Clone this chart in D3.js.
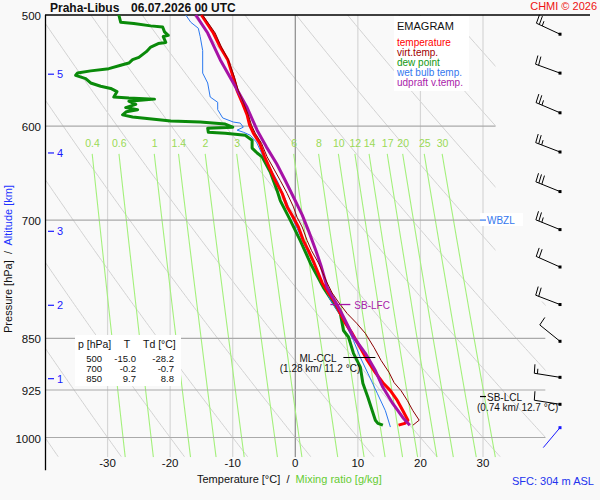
<!DOCTYPE html>
<html>
<head>
<meta charset="utf-8">
<script src="https://cdn.jsdelivr.net/npm/d3@7"></script>
<style>
body { margin: 0; background: #f9f9f9; }
text { font-family: "Liberation Sans", Arial, sans-serif; }
</style>
</head>
<body>
<div id="chart"></div>
<script>
// sounding values (pressure hPa, temperature degC)
var tempP = [500,515,527,538,554,566,577,589,599,607,617,631,656,670,685,697,708,724,736,751,776,789,802,816,829,843,863,881,899,914,926,941,957,972,977,980];
var tempT = [-15.0,-13.1,-12.0,-10.8,-9.9,-9.3,-8.5,-7.7,-7.3,-6.7,-5.7,-4.9,-3.2,-2.1,-1.3,-0.3,0.5,1.3,2.1,3.0,4.3,5.3,6.4,7.2,8.0,9.1,10.4,11.5,12.8,14.0,15.2,16.3,17.2,18.0,17.5,16.5];

var virtP = [500,515,527,538,554,566,577,589,599,607,617,631,656,670,685,697,708,724,736,751,776,789,802,816,829,843,863,881,899,914,926,941,957,972,980];
var virtT = [-14.8,-12.8,-11.8,-10.7,-9.7,-9.1,-8.3,-7.5,-7.0,-6.4,-5.4,-4.5,-2.4,-1.3,-0.3,0.3,1.1,1.9,2.6,3.7,5.1,5.9,7.0,8.3,9.8,11.2,12.6,13.7,15.0,15.8,16.9,17.9,18.8,19.8,18.8];

var dewP = [500,506,507,509,510,514,517,518,523,524,527,531,536,538,541,543,546,548,550,552,555,559,562,564,567,572,573,574,576,579,582,584,586,589,591,595,596,598,601,602,606,607,609,614,622,627,631,647,667,678,689,700,724,751,782,802,816,839,848,871,891,915,936,957,972,977,980];
var dewT = [-28.2,-27.9,-25.8,-23.1,-21.2,-20.9,-20.3,-21.1,-20.7,-21.9,-23.1,-23.8,-25.0,-26.0,-26.6,-27.9,-29.8,-32.7,-34.8,-35.1,-33.5,-32.7,-31.1,-29.5,-28.5,-29.0,-26.6,-22.5,-26.6,-25.5,-27.1,-25.2,-27.0,-27.6,-26.0,-19.9,-15.2,-11.2,-10.0,-14.0,-13.9,-11.2,-8.0,-6.9,-6.9,-6.1,-5.3,-4.0,-2.9,-2.4,-1.6,-0.8,0.8,2.4,4.5,6.1,7.2,7.7,8.5,9.3,10.4,10.8,11.6,12.3,12.8,13.2,14.0];

var wetP = [500,506,511,518,530,550,559,572,577,584,592,596,597,601,604,606,609,616,631,656,681,697,718,736,756,798,825,853,877,900,930,957,983];
var wetT = [-17.5,-16.7,-15.5,-15.2,-14.8,-14.8,-14.0,-13.6,-12.4,-12.4,-11.6,-9.9,-8.8,-8.3,-9.3,-8.3,-7.2,-6.2,-5.1,-2.9,-1.3,-0.5,0.8,1.9,3.2,5.6,7.7,9.3,10.4,11.6,13.1,14.4,15.2];

var updP = [500,515,538,559,582,604,621,638,656,674,694,714,736,754,782,812,848,871,896,921,946,968,980];
var updT = [-15.9,-14.0,-12.0,-9.9,-7.7,-6.1,-4.6,-3.0,-1.6,-0.3,1.1,2.2,3.3,4.1,5.1,7.2,9.3,11.2,12.8,14.0,15.6,17.2,18.3];

// wind: pressure, direction (deg), speed (kt)
var windP = [516,550,587,626,668,711,756,804,854,906,947,984];
var windDir = [295,290,293,291,292,292,294,291,309,279,279,220];
var windSpd = [25,20,25,25,30,25,20,20,10,15,10,2];

// axes / reference lines
var isobars = [600,700,850,925,1000];
var pressureTicks = [500,600,700,850,925,1000];
var tempTicks = [-30,-20,-10,0,10,20,30];
var mixLines = [0.4,0.6,1,1.4,2,3,4,6,8,10,12,14,17,20,25,30];
var mixLabels = [0.4,0.6,1,1.4,2,3,6,8,10,12,14,17,20,25,30];
var altKm = [1,2,3,4,5];
var altP = [908,805,713,627,551];

// table
var tableP = [500,700,850];
var tableT = [-15.0,-0.2,9.7];
var tableTd = [-28.2,-0.7,8.8];

// levels
var lfcP = 804, cclP = 877, lclP = 935, wbzlP = 700;

var legendNames = ["temperature","virt.temp.","dew point","wet bulb temp.","udpraft v.temp."];
var legendColors = ["#ff0000","#a00000","#119911","#3377ee","#aa22aa"];

function main() {
    var width = 600, height = 500;
    var svg = d3.select("#chart").append("svg")
                .attr("width", width).attr("height", height);

    var x = d3.scaleLinear().domain([-40, 30]).range([45, 483]);
    var y = d3.scaleLog().domain([500, 1000]).range([15, 437.5]);
    var pBot = 1033;

    svg.append("clipPath").attr("id", "plot").append("path")
        .attr("d", "M" + x(-40) + "," + y(500) + "H" + x(32) + "V" + y(800) +
                   "H" + x(40) + "V" + y(pBot) + "H" + x(-40) + "Z");
    var bg = svg.append("g").attr("clip-path", "url(#plot)");

    var pl = d3.line().x(function(d){return x(d[1]);}).y(function(d){return y(d[0]);});

    // dry adiabats
    d3.range(-40, 111, 10).forEach(function(th){
        var pts = d3.range(500, pBot + 1, 4).map(function(p){
            return [p, (th + 273.15) * Math.pow(p / 1000, 0.2857) - 273.15];
        });
        bg.append("path").attr("d", pl(pts)).attr("fill", "none")
          .attr("stroke", "#d2d2d2").attr("stroke-width", 1);
    });

    // isotherms
    tempTicks.forEach(function(t){
        bg.append("line").attr("x1", x(t)).attr("x2", x(t))
          .attr("y1", y(500)).attr("y2", y(pBot))
          .attr("stroke", t == 0 ? "#8a8a8a" : "#d6d6d6").attr("stroke-width", 1.2);
    });

    // mixing ratio lines
    function tsat(w, p) {
        var e = w * p / (622 + w), l = Math.log(e / 6.112);
        return 243.5 * l / (17.67 - l);
    }
    mixLines.forEach(function(w){
        var pts = d3.range(628, pBot + 1, 5).map(function(p){ return [p, tsat(w, p)]; });
        bg.append("path").attr("d", pl(pts)).attr("fill", "none")
          .attr("stroke", "#a4f07c").attr("stroke-width", 1.1);
    });
    svg.selectAll(".mixlab").data(mixLabels).enter().append("text")
        .attr("x", function(w){return x(tsat(w, 631));})
        .attr("y", y(617) + 4)
        .attr("text-anchor", "middle").style("font-size", "10.5px")
        .attr("fill", "#9ad956").text(function(w){return w;});

    // isobars
    isobars.forEach(function(p){
        bg.append("line").attr("x1", x(-40)).attr("x2", x(40))
          .attr("y1", y(p)).attr("y2", y(p))
          .attr("stroke", "#aaaaaa").attr("stroke-width", 1.2);
    });

    // frame
    svg.append("line").attr("x1", x(-40)).attr("x2", 590).attr("y1", y(500)).attr("y2", y(500))
        .attr("stroke", "#000").attr("stroke-width", 1.3);
    svg.append("line").attr("x1", x(-40) + 0.5).attr("x2", x(-40) + 0.5).attr("y1", y(500)).attr("y2", y(1055))
        .attr("stroke", "#000").attr("stroke-width", 1.3);

    // axis labels
    svg.selectAll(".plab").data(pressureTicks).enter().append("text")
        .attr("x", 41).attr("y", function(p){return y(p) + 5;})
        .attr("text-anchor", "end").style("font-size", "11.5px").attr("fill", "#111")
        .text(function(p){return p;});
    svg.selectAll(".tlab").data(tempTicks).enter().append("text")
        .attr("x", function(t){return x(t);}).attr("y", 467)
        .attr("text-anchor", "middle").style("font-size", "11.5px").attr("fill", "#111")
        .text(function(t){return t;});

    var alt = svg.selectAll(".alt").data(altKm).enter().append("g");
    alt.append("line").attr("x1", 48).attr("x2", 54)
        .attr("y1", function(d,i){return y(altP[i]);}).attr("y2", function(d,i){return y(altP[i]);})
        .attr("stroke", "#1a1aff").attr("stroke-width", 1.2);
    alt.append("text").attr("x", 57).attr("y", function(d,i){return y(altP[i]) + 4;})
        .style("font-size", "11px").attr("fill", "#1a1aff").text(function(d){return d;});

    var ylab = svg.append("text").attr("transform", "translate(12,259) rotate(-90)")
        .attr("text-anchor", "middle").style("font-size", "11px").attr("fill", "#111");
    ylab.append("tspan").text("Pressure [hPa]\u00a0 /\u00a0 ");
    ylab.append("tspan").attr("fill", "#2233ff").text("Altitude [km]");

    var xlab = svg.append("text").attr("x", 197).attr("y", 483)
        .style("font-size", "11px").attr("fill", "#111");
    xlab.append("tspan").text("Temperature [°C]\u00a0 /\u00a0 ");
    xlab.append("tspan").attr("fill", "#66cc33").text("Mixing ratio [g/kg]");

    svg.append("text").attr("x", 512).attr("y", 485).style("font-size", "11px")
        .attr("fill", "#2233ee").text("SFC: 304 m ASL");

    // title
    svg.append("text").attr("x", 50).attr("y", 12).style("font-size", "12px")
        .style("font-weight", "bold").attr("fill", "#111").text("Praha-Libus");
    svg.append("text").attr("x", 131).attr("y", 12).style("font-size", "12px")
        .style("font-weight", "bold").attr("fill", "#111").text("06.07.2026 00 UTC");
    svg.append("text").attr("x", 597).attr("y", 10).attr("text-anchor", "end")
        .style("font-size", "11px").attr("fill", "#ee1111").text("CHMI © 2026");

    // legend
    svg.append("rect").attr("x", 394).attr("y", 16).attr("width", 75).attr("height", 75).attr("fill", "#fff");
    svg.append("text").attr("x", 397).attr("y", 30).style("font-size", "11px").attr("fill", "#111").text("EMAGRAM");
    svg.selectAll(".leg").data(legendNames).enter().append("text")
        .attr("x", 397).attr("y", function(d,i){return 45.5 + i * 10;})
        .style("font-size", "10px").attr("fill", function(d,i){return legendColors[i];})
        .text(function(d){return d;});

    // table
    svg.append("rect").attr("x", 75).attr("y", 335).attr("width", 106).attr("height", 51).attr("fill", "#fff");
    var th = svg.append("g").style("font-size", "10.5px").attr("fill", "#111");
    th.append("text").attr("x", 78).attr("y", 348).text("p [hPa]");
    th.append("text").attr("x", 127).attr("y", 348).attr("text-anchor", "middle").text("T");
    th.append("text").attr("x", 143).attr("y", 348).text("Td [°C]");
    var rows = svg.selectAll(".row").data(tableP).enter().append("g")
        .style("font-size", "9.5px").attr("fill", "#111");
    rows.append("text").attr("x", 102).attr("y", function(d,i){return 361.5 + i * 10.2;})
        .attr("text-anchor", "end").text(function(d){return d;});
    rows.append("text").attr("x", 136).attr("y", function(d,i){return 361.5 + i * 10.2;})
        .attr("text-anchor", "end").text(function(d,i){return tableT[i].toFixed(1);});
    rows.append("text").attr("x", 174).attr("y", function(d,i){return 361.5 + i * 10.2;})
        .attr("text-anchor", "end").text(function(d,i){return tableTd[i].toFixed(1);});

    // profiles
    function prof(ps, ts) { return ps.map(function(p, i){ return [p, ts[i]]; }); }
    function draw(ps, ts, col, w) {
        svg.append("path").attr("d", pl(prof(ps, ts))).attr("fill", "none")
           .attr("stroke", col).attr("stroke-width", w).attr("stroke-linejoin", "round");
    }
    draw(dewP, dewT, "#0a8a0a", 3);
    draw(wetP, wetT, "#2a78f0", 1);
    draw(tempP, tempT, "#ff0000", 3);
    draw(updP, updT, "#a612a6", 3);
    draw(virtP, virtT, "#8b0000", 1);

    // level labels
    svg.append("line").attr("x1", x(7.2) - 10).attr("x2", x(7.2) + 10)
        .attr("y1", y(lfcP)).attr("y2", y(lfcP)).attr("stroke", "#a612a6").attr("stroke-width", 1.3);
    svg.append("text").attr("x", x(7.2) + 14).attr("y", y(lfcP) + 4)
        .style("font-size", "10px").attr("fill", "#aa22aa").text("SB-LFC");

    svg.append("line").attr("x1", x(11.2) - 22).attr("x2", x(11.2) + 10)
        .attr("y1", y(cclP)).attr("y2", y(cclP)).attr("stroke", "#000").attr("stroke-width", 1.2);
    svg.append("text").attr("x", 318).attr("y", y(cclP) + 5).attr("text-anchor", "middle")
        .style("font-size", "10px").attr("fill", "#111").text("ML-CCL");
    svg.append("text").attr("x", 320).attr("y", y(cclP) + 15).attr("text-anchor", "middle")
        .style("font-size", "10px").attr("fill", "#111").text("(1.28 km/ 11.2 °C)");

    svg.append("line").attr("x1", 480).attr("x2", 486)
        .attr("y1", y(lclP)).attr("y2", y(lclP)).attr("stroke", "#000").attr("stroke-width", 1.2);
    svg.append("text").attr("x", 487).attr("y", y(lclP) + 4)
        .style("font-size", "10px").attr("fill", "#111").text("SB-LCL");
    svg.append("text").attr("x", 477).attr("y", y(lclP) + 14)
        .style("font-size", "10px").attr("fill", "#111").text("(0.74 km/ 12.7 °C)");

    svg.append("rect").attr("x", 480).attr("y", y(wbzlP) - 7).attr("width", 43).attr("height", 13).attr("fill", "#fff");
    svg.append("line").attr("x1", 480).attr("x2", 486)
        .attr("y1", y(wbzlP)).attr("y2", y(wbzlP)).attr("stroke", "#3377ee").attr("stroke-width", 1.2);
    svg.append("text").attr("x", 487).attr("y", y(wbzlP) + 4)
        .style("font-size", "10px").attr("fill", "#3377ee").text("WBZL");

    // wind barbs
    var xb = 560, L = 26, phi = 85 * Math.PI / 180;
    var wb = svg.append("g");
    windP.forEach(function(p, i){
        var cy = y(p), a = windDir[i] * Math.PI / 180;
        var ux = Math.sin(a), uy = -Math.cos(a);
        var bx = Math.cos(phi) * ux - Math.sin(phi) * uy;
        var by = Math.sin(phi) * ux + Math.cos(phi) * uy;
        var col = i == windP.length - 1 ? "#1a1aff" : "#000";
        var tx = xb + L * ux, ty = cy + L * uy;
        wb.append("line").attr("x1", xb).attr("y1", cy).attr("x2", tx).attr("y2", ty)
          .attr("stroke", col).attr("stroke-width", 1);
        var s = windSpd[i], k = 0;
        while (s >= 10) {
            var sx = tx - k * 3.2 * ux, sy = ty - k * 3.2 * uy;
            wb.append("line").attr("x1", sx).attr("y1", sy).attr("x2", sx + 9 * bx).attr("y2", sy + 9 * by)
              .attr("stroke", col).attr("stroke-width", 1);
            s -= 10; k++;
        }
        if (s >= 5) {
            if (k == 0) k = 1;
            var hx = tx - k * 3.2 * ux, hy = ty - k * 3.2 * uy;
            wb.append("line").attr("x1", hx).attr("y1", hy).attr("x2", hx + 5 * bx).attr("y2", hy + 5 * by)
              .attr("stroke", col).attr("stroke-width", 1);
        }
        wb.append("rect").attr("x", xb - 1.5).attr("y", cy - 1.5).attr("width", 3).attr("height", 3).attr("fill", col);
    });
}
main();
</script>
</body>
</html>
